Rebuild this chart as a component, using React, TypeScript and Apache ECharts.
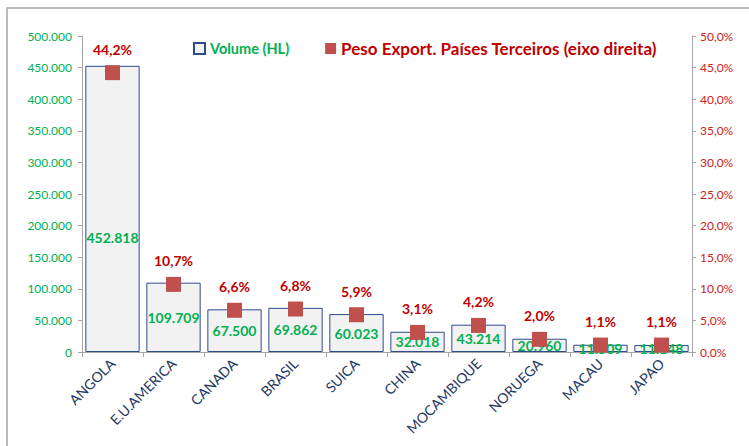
import React, { useEffect, useRef } from "react";
import * as echarts from "echarts";

const categories = ["ANGOLA", "E.U.AMERICA", "CANADA", "BRASIL", "SUICA", "CHINA", "MOCAMBIQUE", "NORUEGA", "MACAU", "JAPAO"];
const volumes = [452818, 109709, 67500, 69862, 60023, 32018, 43214, 20960, 11509, 11148];
const shares = [44.2, 10.7, 6.6, 6.8, 5.9, 3.1, 4.2, 2.0, 1.1, 1.1];
const volumeName = "Volume (HL)";
const shareName = "Peso Export. Países Terceiros (eixo direita)";

const GREEN = "#00B050";
const RED = "#C00000";
const NAVY = "#2F4B8C";
const FONT = "Lato, 'Open Sans', sans-serif";

const fmtThousands = (v: number) => String(Math.round(v)).replace(/\B(?=(\d{3})+(?!\d))/g, ".");
const fmtPct = (v: number) => v.toFixed(1).replace(".", ",") + "%";

export default function App() {
  const ref = useRef<HTMLDivElement>(null);
  useEffect(() => {
    if (!ref.current) return;
    const chart = echarts.init(ref.current, undefined, { renderer: "svg" });
    chart.setOption({
      animation: false,
      backgroundColor: "#fff",
      textStyle: { fontFamily: FONT },
      graphic: [
        {
          type: "rect",
          shape: { x: 7, y: 8, width: 800, height: 500 },
          style: { fill: "none", stroke: "#A6A6A6", lineWidth: 1.5 },
          silent: true,
          z: -1,
        },
      ],
      legend: {
        left: 188,
        top: 35,
        itemWidth: 11,
        itemHeight: 11,
        itemGap: 36,
        textStyle: { fontFamily: FONT, fontWeight: 700, fontSize: 16 },
        data: [
          { name: volumeName, icon: "rect", textStyle: { color: GREEN, fontWeight: 700, fontSize: 14.5 } },
          { name: shareName, icon: "rect", textStyle: { color: RED, fontWeight: 700, fontSize: 17 } },
        ],
      },
      grid: { left: 82, right: 57, top: 36, bottom: 94 },
      xAxis: {
        type: "category",
        data: categories,
        axisLine: { lineStyle: { color: "#A6A6A6", width: 1 } },
        axisTick: { show: true, alignWithLabel: false, length: 5, lineStyle: { color: "#A6A6A6" } },
        axisLabel: {
          rotate: 45,
          interval: 0,
          color: "#1F3864",
          fontSize: 14,
          fontFamily: FONT,
          margin: 9,
        },
      },
      yAxis: [
        {
          type: "value",
          min: 0,
          max: 500000,
          interval: 50000,
          splitLine: { show: false },
          axisLine: { show: true, lineStyle: { color: "#A6A6A6" } },
          axisTick: { show: true, length: 4, lineStyle: { color: "#A6A6A6" } },
          axisLabel: { color: GREEN, fontSize: 12, fontFamily: FONT, margin: 10, formatter: fmtThousands },
        },
        {
          type: "value",
          min: 0,
          max: 50,
          interval: 5,
          splitLine: { show: false },
          axisLine: { show: true, lineStyle: { color: "#A6A6A6" } },
          axisTick: { show: true, length: 4, lineStyle: { color: "#A6A6A6" } },
          axisLabel: { color: "#D02020", fontSize: 12, fontFamily: FONT, margin: 8, formatter: fmtPct },
        },
      ],
      series: [
        {
          name: volumeName,
          type: "bar",
          barCategoryGap: "11%",
          itemStyle: { color: "#F2F2F2", borderColor: NAVY, borderWidth: 1 },
          label: {
            show: true,
            position: "inside",
            color: GREEN,
            fontWeight: 700,
            fontSize: 14,
            fontFamily: FONT,
            formatter: (p: any) => fmtThousands(p.value),
          },
          data: volumes.map((v, i) =>
            i === 0 ? { value: v, label: { offset: [0, 29] } } : v
          ),
          z: 2,
        },
        {
          name: shareName,
          type: "scatter",
          yAxisIndex: 1,
          symbol: "rect",
          symbolSize: 15,
          itemStyle: { color: "#C0504D", opacity: 1 },
          label: {
            show: true,
            position: "top",
            distance: 9,
            color: RED,
            fontWeight: 700,
            fontSize: 14,
            fontFamily: FONT,
            formatter: (p: any) => fmtPct(p.value),
          },
          data: shares,
          z: 5,
        },
      ],
    });
    return () => chart.dispose();
  }, []);
  return <div ref={ref} style={{ position: "fixed", left: 0, top: 0, width: 749, height: 446 }} />;
}
